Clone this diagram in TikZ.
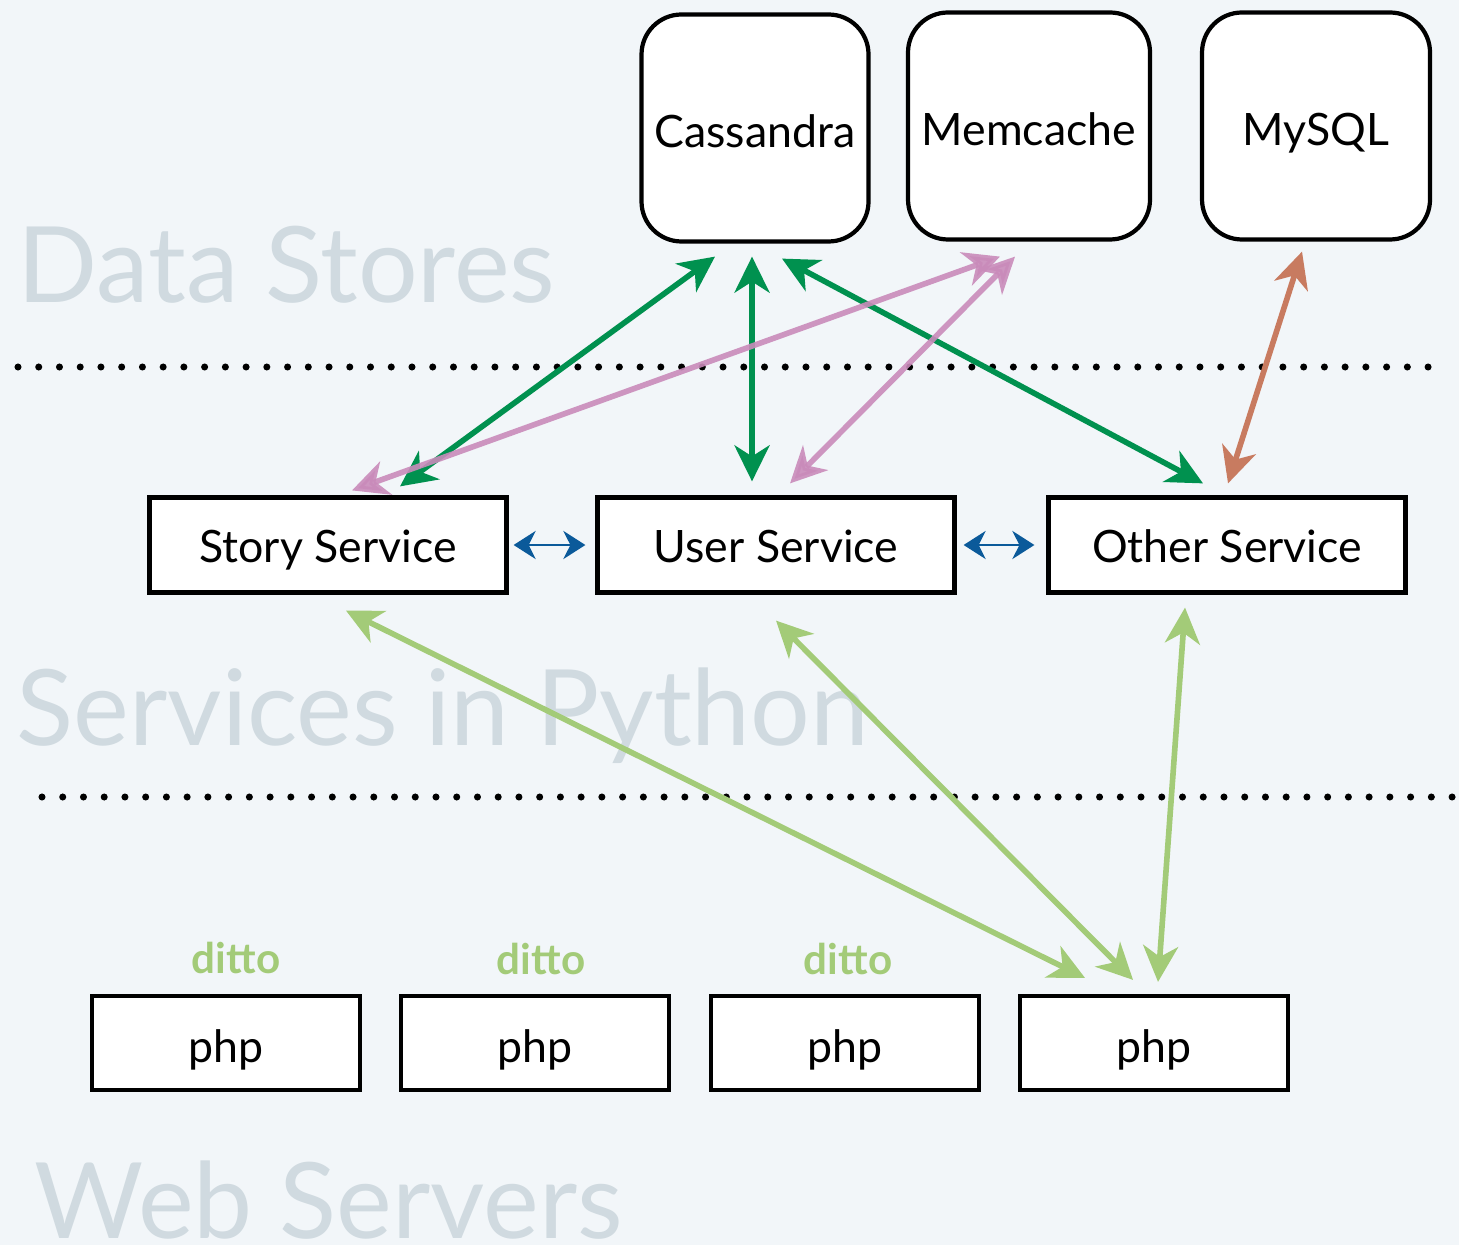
\documentclass[tikz,border=0pt]{standalone}
\usepackage{fontspec}
\setmainfont{Lato}
\usetikzlibrary{arrows.meta,positioning}

\definecolor{paper}{HTML}{F2F6F9}
\definecolor{layergray}{HTML}{D0DAE0}
\definecolor{storegreen}{HTML}{00914F}
\definecolor{cachepink}{HTML}{C98BBA}
\definecolor{sqlbrown}{HTML}{C87B60}
\definecolor{rpcblue}{HTML}{0B5A9A}
\definecolor{webgreen}{HTML}{A3CB78}

\begin{document}
\begin{tikzpicture}[
    node distance=4mm,
    store/.style={rectangle, draw=black, line width=1.2pt, fill=white, rounded corners=4mm, minimum width=2.27cm, minimum height=2.27cm, text height=11pt, text depth=0pt, font=\fontsize{12.7}{14}\selectfont},
    svc/.style={rectangle, draw=black, line width=1.2pt, fill=white, minimum width=3.57cm, minimum height=0.95cm, text height=10.2pt, text depth=0pt, font=\fontsize{12.7}{14}\selectfont},
    webbox/.style={rectangle, draw=black, line width=1.2pt, fill=white, minimum width=2.68cm, minimum height=0.94cm, text height=11.3pt, text depth=0pt, font=\fontsize{12.7}{14}\selectfont},
    layer/.style={anchor=base west, inner sep=0pt, text depth=0pt, text=layergray, font=\fontsize{30}{30}\selectfont},
    dittotag/.style={anchor=base, inner sep=0pt, text=webgreen, font=\bfseries\fontsize{12}{12}\selectfont},
    tier/.style={line width=2pt, line cap=round, dash pattern=on 0pt off 5.9pt},
    link/.style={{Stealth[length=3.6mm,width=3.5mm,inset=1.1mm]}-{Stealth[length=3.6mm,width=3.5mm,inset=1.1mm]}, line width=1.6pt},
    rpc/.style={{Stealth[length=2.2mm,width=2.8mm,inset=0.7mm]}-{Stealth[length=2.2mm,width=2.8mm,inset=0.7mm]}, line width=0.85pt, rpcblue}
    ]
    \fill[paper] (0,0) rectangle (14.59,-12.45);
    \useasboundingbox (0,0) rectangle (14.59,-12.45);

    % layer captions
    \node (lds) [layer] at (0.17,-3.03) {Data Stores};
    \node (lsp) [layer] at (0.16,-7.45) {Services in Python};
    \node (lws) [layer] at (0.34,-12.38) {Web Servers};

    \draw[tier] (0.18,-3.67) -- (14.45,-3.67);
    \draw[tier] (0.42,-7.97) -- (14.59,-7.97);

    % data stores
    \node (cas) [store] at (7.55,-1.28) {Cassandra};
    \node (mem) [store, minimum width=2.42cm] at (10.29,-1.26) {Memcache};
    \node (sql) [store, minimum width=2.28cm] at (13.16,-1.26) {MySQL};

    % services
    \node (story) [svc] at (3.28,-5.45) {Story Service};
    \node (user)  [svc] at (7.76,-5.45) {User Service};
    \node (other) [svc] at (12.27,-5.45) {Other Service};

    % web servers
    \node (php1) [webbox] at (2.26,-10.43) {php};
    \node (php2) [webbox] at (5.35,-10.43) {php};
    \node (php3) [webbox] at (8.45,-10.43) {php};
    \node (php4) [webbox] at (11.54,-10.43) {php};

    \node (d1) [dittotag] at (2.36,-9.73) {ditto};
    \node (d2) [dittotag] at (5.41,-9.74) {ditto};
    \node (d3) [dittotag] at (8.48,-9.74) {ditto};

    % store links
    \draw[link, storegreen] ([xshift=-4mm,yshift=-1.3mm]cas.south) -- ([xshift=7.2mm,yshift=0.9mm]story.north);
    \draw[link, storegreen] ([xshift=-0.3mm,yshift=-1.3mm]cas.south) -- ([xshift=-2.4mm,yshift=1.4mm]user.north);
    \draw[link, storegreen] ([xshift=2.7mm,yshift=-1.5mm]cas.south) -- ([xshift=-2.4mm,yshift=1.2mm]other.north);
    \draw[link, cachepink, opacity=0.9] ([xshift=-2.9mm,yshift=-1.5mm]mem.south) -- ([xshift=2.4mm,yshift=0.5mm]story.north);
    \draw[link, cachepink, opacity=0.9] ([xshift=-1.4mm,yshift=-1.5mm]mem.south) -- ([xshift=1.4mm,yshift=1.2mm]user.north);
    \draw[link, sqlbrown] ([xshift=-1.4mm,yshift=-1mm]sql.south) -- ([xshift=0.1mm,yshift=1.2mm]other.north);

    % service to service
    \draw[rpc] ([xshift=0.5mm]story.east) -- ([xshift=-1mm]user.west);
    \draw[rpc] ([xshift=0.7mm]user.east) -- ([xshift=-1.2mm]other.west);

    % web links
    \draw[link, webgreen] ([xshift=1.8mm,yshift=-1.6mm]story.south) -- ([xshift=-6.9mm,yshift=1.6mm]php4.north);
    \draw[link, webgreen] ([yshift=-2.6mm]user.south) -- ([xshift=-2.1mm,yshift=1.4mm]php4.north);
    \draw[link, webgreen] ([xshift=-4.2mm,yshift=-1.3mm]other.south) -- ([xshift=0.4mm,yshift=1.2mm]php4.north);
\end{tikzpicture}
\end{document}
